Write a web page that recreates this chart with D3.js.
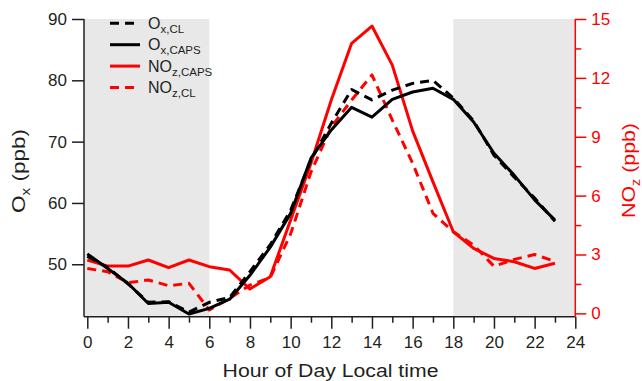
<!DOCTYPE html>
<html><head><meta charset="utf-8">
<script src="https://cdn.jsdelivr.net/npm/d3@7"></script>
<style>
body{margin:0;background:#fff;}
text{font-family:"Liberation Sans",Arial,Helvetica,sans-serif;}
</style></head>
<body><svg id="c" width="642" height="381"></svg>
<script>
const hours = d3.range(0,24);
const oxCL   = [51.3,49.5,46.8,43.8,43.9,42.2,43.8,44.6,48.8,53.2,58.8,67.0,73.0,78.5,76.8,78.4,79.5,80.0,77.1,73.4,67.8,64.2,60.8,57.0];
const oxCAPS = [51.7,49.3,46.9,43.6,43.8,41.9,42.8,44.3,48.2,52.8,58.3,67.3,71.9,75.6,74.0,76.9,78.1,78.7,76.9,73.2,68.1,64.5,60.5,57.2];
const nozCAPS= [2.72,2.41,2.41,2.72,2.33,2.72,2.38,2.21,1.24,1.87,4.76,7.65,10.87,13.76,14.64,12.65,9.3,6.7,4.16,3.31,2.8,2.63,2.29,2.55];
const nozCL  = [2.29,2.12,1.56,1.7,1.41,1.53,0.17,0.76,1.44,1.83,4.05,7.2,9.5,10.87,12.15,9.85,7.65,5.1,4.16,3.48,2.4,2.75,3.0,2.65];
const xTicks = d3.range(0,25,2);
const yLeftTicks = [50,60,70,80,90];
const yRightTicks = [0,3,6,9,12,15];
const nightSpans = [[0,6],[18,24]];

const svg = d3.select("#c");
const ink = "#231f20", red = "#ff0000";
const x = d3.scaleLinear().domain([0,24]).range([87.3,575.3]);
const yL = d3.scaleLinear().domain([41.45,90]).range([316.7,19]);
const yR = d3.scaleLinear().domain([-0.17,15]).range([316.7,19]);
const pLeft = 84, pTop = 19, pBottom = 316.7, pRight = x(24);

// shading
svg.selectAll("rect.night").data(nightSpans).join("rect")
  .attr("x", d => d[0]===0 ? pLeft : x(d[0]))
  .attr("width", d => x(d[1]) - (d[0]===0 ? pLeft : x(d[0])))
  .attr("y", pTop).attr("height", pBottom-pTop).attr("fill","#e8e8e8");

// lines
const lineL = d3.line().x((d,i)=>x(hours[i])).y(d=>yL(d));
const lineR = d3.line().x((d,i)=>x(hours[i])).y(d=>yR(d));
const g = svg.append("g").attr("fill","none").attr("stroke-width",3).attr("stroke-linejoin","round");
g.append("path").attr("d",lineR(nozCL)).attr("stroke",red).attr("stroke-dasharray","9,6");
g.append("path").attr("d",lineR(nozCAPS)).attr("stroke",red);
g.append("path").attr("d",lineL(oxCL)).attr("stroke","#000").attr("stroke-dasharray","9,6");
g.append("path").attr("d",lineL(oxCAPS)).attr("stroke","#000");

// x axis
const xa = svg.append("g").attr("transform",`translate(0,${pBottom})`)
  .call(d3.axisBottom(x).tickValues(xTicks).tickSize(12).tickPadding(7.5).tickFormat(d3.format("d")));
xa.select(".domain").remove();
xa.selectAll("line").attr("stroke",ink).attr("stroke-width",1.5);
xa.selectAll("text").attr("fill",ink).attr("font-size",17);
const xm = svg.append("g").attr("transform",`translate(0,${pBottom})`)
  .call(d3.axisBottom(x).tickValues(d3.range(1,24,2)).tickSize(6).tickFormat(""));
xm.select(".domain").remove();
xm.selectAll("line").attr("stroke",ink).attr("stroke-width",1.5);
svg.append("line").attr("x1",pLeft).attr("x2",pRight).attr("y1",pBottom).attr("y2",pBottom).attr("stroke",ink).attr("stroke-width",1.5);

// left axis
const ya = svg.append("g").attr("transform",`translate(${pLeft},0)`)
  .call(d3.axisLeft(yL).tickValues(yLeftTicks).tickSize(12).tickPadding(5));
ya.select(".domain").remove();
ya.selectAll("line").attr("stroke",ink).attr("stroke-width",1.5);
ya.selectAll("text").attr("fill",ink).attr("font-size",17);
svg.append("line").attr("x1",pLeft).attr("x2",pLeft).attr("y1",pTop).attr("y2",pBottom).attr("stroke",ink).attr("stroke-width",1.5);

// right axis
const yra = svg.append("g").attr("transform",`translate(${pRight},0)`)
  .call(d3.axisRight(yR).tickValues(yRightTicks).tickSize(11).tickPadding(5));
yra.select(".domain").remove();
yra.selectAll("line").attr("stroke",red).attr("stroke-width",1.5);
yra.selectAll("text").attr("fill",red).attr("font-size",17);
const yrm = svg.append("g").attr("transform",`translate(${pRight},0)`)
  .call(d3.axisRight(yR).tickValues(d3.range(1.5,15,3)).tickSize(6).tickFormat(""));
yrm.select(".domain").remove();
yrm.selectAll("line").attr("stroke",red).attr("stroke-width",1.5);
svg.append("line").attr("x1",pRight).attr("x2",pRight).attr("y1",pTop).attr("y2",pBottom).attr("stroke",red).attr("stroke-width",1.5);

// axis titles (stretched along their reading direction to the reference length)
function title(transform, size, color, parts, targetLen){
  const grp = svg.append("g").attr("transform",transform);
  const t = grp.append("text").attr("text-anchor","middle").attr("font-size",size).attr("fill",color);
  parts.forEach(p=>{
    const s = t.append("tspan").text(p.t);
    if(p.sub){ s.attr("dy",5).attr("font-size",size*0.68); }
    else if(p.after){ s.attr("dy",-5); }
  });
  const w = t.node().getBBox().width;
  if (w>0) t.attr("transform",`scale(${targetLen/w},1)`);
}
title("translate(330.5,377)",18.5,ink,[{t:"Hour of Day Local time"}],216);
title("translate(25,171) rotate(-90)",18.5,ink,[{t:"O"},{t:"x",sub:true},{t:" (ppb)",after:true}],84);
title("translate(635,170.5) rotate(-90)",17.5,red,[{t:"NO"},{t:"z",sub:true},{t:" (ppb)",after:true}],95);

// legend
const legend = [
  {main:"O", sub:"x,CL", color:"#000", dash:"9,6"},
  {main:"O", sub:"x,CAPS", color:"#000", dash:null},
  {main:"NO", sub:"z,CAPS", color:red, dash:null},
  {main:"NO", sub:"z,CL", color:red, dash:"9,6"}
];
const lg = svg.append("g");
legend.forEach((d,i)=>{
  const yy = 23.3 + i*21.4;
  lg.append("line").attr("x1",110).attr("x2",140).attr("y1",yy).attr("y2",yy)
    .attr("stroke",d.color).attr("stroke-width",3).attr("stroke-dasharray",d.dash);
  const t = lg.append("text").attr("x",148).attr("y",yy+5.5).attr("font-size",16).attr("fill",ink);
  t.append("tspan").text(d.main);
  t.append("tspan").attr("dy",4).attr("font-size",11.5).text(d.sub);
});
</script></body></html>
